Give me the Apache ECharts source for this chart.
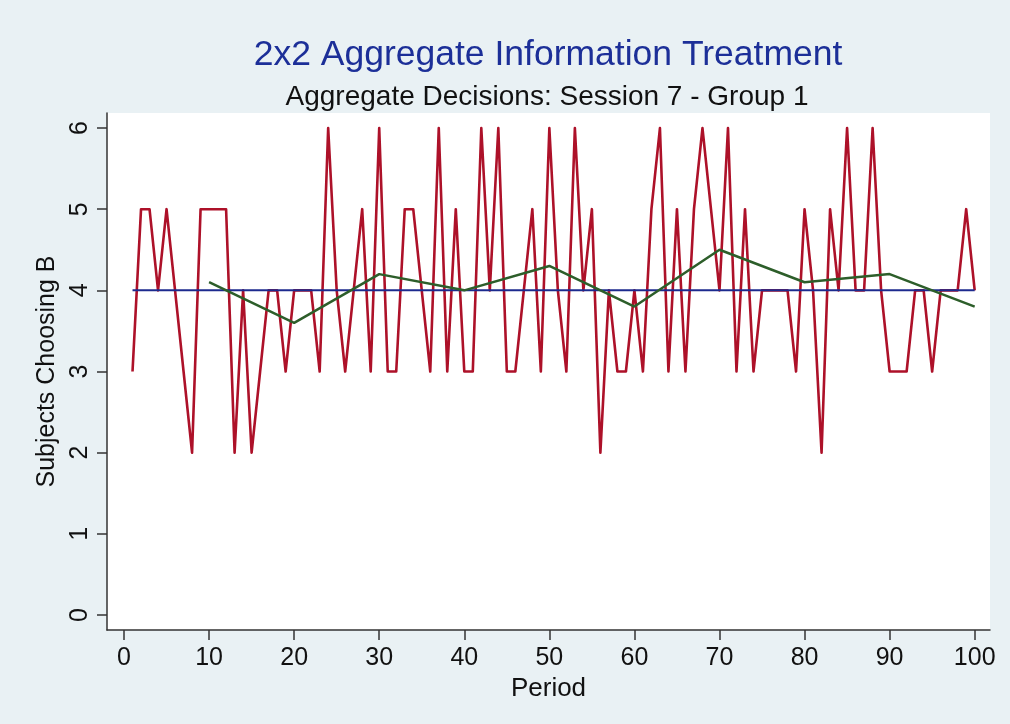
<!DOCTYPE html>
<html>
<head>
<meta charset="utf-8">
<script src="https://cdn.jsdelivr.net/npm/echarts@6/dist/echarts.min.js"></script>
<style>
  html, body { margin: 0; padding: 0; background: #e9f1f4; }
  #chart { width: 1010px; height: 724px; }
</style>
</head>
<body>
<div id="chart"></div>
<script>
// Number of subjects choosing B in each period (periods 1..100)
const subjectsChoosingB = [
  3, 5, 5, 4, 5, 4, 3, 2, 5, 5,
  5, 5, 2, 4, 2, 3, 4, 4, 3, 4,
  4, 4, 3, 6, 4, 3, 4, 5, 3, 6,
  3, 3, 5, 5, 4, 3, 6, 3, 5, 3,
  3, 6, 4, 6, 3, 3, 4, 5, 3, 6,
  4, 3, 6, 4, 5, 2, 4, 3, 3, 4,
  3, 5, 6, 3, 5, 3, 5, 6, 5, 4,
  6, 3, 5, 3, 4, 4, 4, 4, 3, 5,
  4, 2, 5, 4, 6, 4, 4, 6, 4, 3,
  3, 3, 4, 4, 3, 4, 4, 4, 5, 4
];

// Ten-period averages
const avgPeriods = [10, 20, 30, 40, 50, 60, 70, 80, 90, 100];
const avgValues = [4.1, 3.6, 4.2, 4.0, 4.3, 3.8, 4.5, 4.1, 4.2, 3.8];

// Reference level
const refPeriods = [1, 100];
const refValue = 4;

const xTicks = [0, 10, 20, 30, 40, 50, 60, 70, 80, 90, 100];
const yTicks = [0, 1, 2, 3, 4, 5, 6];

const FONT = '"Liberation Sans", Arial, sans-serif';

const chart = echarts.init(document.getElementById('chart'), null, { renderer: 'canvas' });

const decisions = subjectsChoosingB.map((v, i) => [i + 1, v]);
const averages = avgPeriods.map((p, i) => [p, avgValues[i]]);
const reference = refPeriods.map(p => [p, refValue]);

chart.setOption({
  backgroundColor: '#e9f1f4',
  animation: false,
  title: [
    {
      text: '2x2 Aggregate Information Treatment',
      left: 543, top: 32, textAlign: 'center',
      textStyle: { fontFamily: FONT, fontSize: 35.5, fontWeight: 'normal', color: '#1c2f98' }
    },
    {
      text: 'Aggregate Decisions: Session 7 - Group 1',
      left: 542, top: 78, textAlign: 'center',
      textStyle: { fontFamily: FONT, fontSize: 28, fontWeight: 'normal', color: '#111111' }
    }
  ],
  grid: {
    left: 107, right: 20, top: 113, bottom: 94,
    show: true, backgroundColor: '#ffffff', borderWidth: 0
  },
  xAxis: {
    type: 'value',
    min: -2, max: 101.8,
    name: 'Period',
    nameLocation: 'middle',
    nameGap: 46,
    nameTextStyle: { fontFamily: FONT, fontSize: 26, color: '#111111' },
    axisLine: { show: true, onZero: false, lineStyle: { color: '#333333', width: 1.5 } },
    axisTick: { show: true, length: 10, customValues: xTicks, lineStyle: { color: '#333333', width: 1.5 } },
    axisLabel: { customValues: xTicks, margin: 16, fontFamily: FONT, fontSize: 25, color: '#111111' },
    splitLine: { show: false }
  },
  yAxis: {
    type: 'value',
    min: -0.185, max: 6.185,
    name: 'Subjects Choosing B',
    nameLocation: 'middle',
    nameGap: 45,
    nameRotate: 90,
    nameTextStyle: { fontFamily: FONT, fontSize: 25, color: '#111111' },
    axisLine: { show: true, onZero: false, lineStyle: { color: '#333333', width: 1.5 } },
    axisTick: { show: true, length: 10, customValues: yTicks, lineStyle: { color: '#333333', width: 1.5 } },
    axisLabel: { customValues: yTicks, rotate: 90, margin: 14, fontFamily: FONT, fontSize: 25, color: '#111111' },
    splitLine: { show: false }
  },
  series: [
    {
      name: 'Subjects Choosing B',
      type: 'line',
      data: decisions,
      symbol: 'none',
      lineStyle: { color: '#ad1129', width: 2.6, join: 'round' },
      z: 2
    },
    {
      name: 'Benchmark',
      type: 'line',
      data: reference,
      symbol: 'none',
      lineStyle: { color: '#1c2a8e', width: 2 },
      z: 3
    },
    {
      name: '10-period average',
      type: 'line',
      data: averages,
      symbol: 'none',
      lineStyle: { color: '#2d5e2a', width: 2.5 },
      z: 4
    }
  ]
});
</script>
</body>
</html>
